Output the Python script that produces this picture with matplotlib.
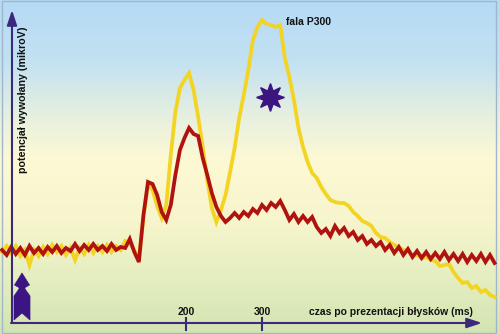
import numpy as np
import matplotlib
matplotlib.use("Agg")
import matplotlib.pyplot as plt
from matplotlib.colors import LinearSegmentedColormap
from matplotlib.patches import Polygon, Rectangle

# ---- data (time in ms, potential in arbitrary microvolts) ----
time_ms = np.arange(-42, 607, 6)

red_uv = [0.2, -0.3, 0.5, -0.2, 0.4, -0.3, 0.6, -0.1, 0.4, -0.2,
          0.5, 0.0, 0.6, -0.1, 0.4, 0.1, 0.8, 0.1, 0.7, 0.2,
          0.8, 0.2, 0.6, 0.1, 0.8, 0.2, 0.5, 0.4, 1.3, 0.0,
          -1.0, 3.7, 7.0, 6.8, 5.7, 4.0, 3.2, 4.7, 7.7, 10.2,
          11.4, 12.4, 11.8, 11.6, 9.4, 7.7, 5.9, 4.5, 3.6, 3.0,
          3.4, 3.9, 3.4, 4.0, 3.6, 4.3, 3.9, 4.7, 4.2, 4.9,
          4.5, 5.1, 4.2, 3.2, 3.8, 3.0, 3.6, 3.0, 3.5, 2.5,
          1.9, 2.3, 1.6, 2.6, 1.9, 2.4, 1.6, 2.0, 1.2, 1.6,
          0.8, 1.2, 0.6, 1.0, 0.2, 0.7, -0.1, 0.5, -0.3, 0.3,
          -0.5, 0.1, -0.6, 0.0, -0.7, -0.1, -0.7, 0.0, -0.8, -0.2,
          -0.9, -0.2, -1.0, -0.3, -0.9, -0.2, -1.0, -0.3, -1.1]

yellow_uv = [0.0, 0.6, -0.1, 0.6, -0.4, 0.2, -1.3, 0.2, -0.4, 0.5,
             -0.2, 0.7, 0.0, 0.6, -0.3, 0.4, -0.8, 0.4, -0.2, 0.7,
             -0.1, 0.6, 0.0, 0.7, 0.0, 0.6, 0.2, 1.1, 0.8, 0.2,
             -0.6, 3.4, 6.8, 6.2, 4.6, 3.4, 4.7, 9.7, 14.0, 16.4,
             17.2, 17.9, 16.2, 13.5, 10.5, 7.2, 4.4, 3.0, 4.2, 5.7,
             8.0, 10.4, 13.4, 15.7, 18.2, 21.2, 22.5, 23.2, 22.8, 22.7,
             22.5, 22.7, 19.4, 17.5, 15.2, 12.4, 10.5, 9.0, 7.9, 7.4,
             6.5, 5.8, 5.2, 5.0, 4.9, 4.9, 4.6, 4.0, 3.6, 3.1,
             2.9, 2.6, 1.9, 1.5, 1.4, 1.0, 0.7, 0.5, 0.2, 0.1,
             -0.4, -0.3, -0.6, -0.5, -0.8, -0.9, -1.4, -1.3, -1.2, -2.0,
             -2.6, -3.1, -3.0, -3.6, -3.4, -4.0, -3.8, -4.3, -4.5]

tick_values = [200, 300]
tick_labels = ["200", "300"]
star_pos = (310, 15.5)

# ---- figure ----
W, H = 500, 334
fig = plt.figure(figsize=(W / 100, H / 100), dpi=100)
ax = fig.add_axes([0, 0, 1, 1])

def to_data(px, py):
    return (px - 34) / 0.76, (252 - py) / 10.0

x0, _ = to_data(0, 0)
x1, _ = to_data(W, 0)
_, y1 = to_data(0, 0)
_, y0 = to_data(0, H)
ax.set_xlim(x0, x1)
ax.set_ylim(y0, y1)
ax.axis("off")

# background gradient
cmap = LinearSegmentedColormap.from_list("bg", [
    (0.0, "#b6daf5"), (0.18, "#c2e1f2"), (0.36, "#e9f1de"),
    (0.48, "#fdf9d4"), (0.66, "#f7f5cc"), (0.84, "#e4eec0"), (1.0, "#d2e4b2")])
grad = np.linspace(0, 1, 256).reshape(-1, 1)
ax.imshow(grad, cmap=cmap, aspect="auto", extent=[x0, x1, y0, y1],
          origin="upper", zorder=0)

# frame
fx0, fy0 = to_data(2, 333)
fx1, fy1 = to_data(496, 1)
ax.add_patch(Rectangle((fx0, fy0), fx1 - fx0, fy1 - fy0, fill=False,
                       edgecolor="#9fb6cc", lw=1.0, zorder=1))

# curves
ax.plot(time_ms, yellow_uv, color="#f4d423", lw=2.7, zorder=3,
        solid_joinstyle="miter")
ax.plot(time_ms, red_uv, color="#b0120f", lw=2.7, zorder=4,
        solid_joinstyle="miter")

axis_col = "#3b2a7c"
# y axis arrow
ax.annotate("", xy=to_data(12, 10), xytext=to_data(12, 323),
            arrowprops=dict(arrowstyle="-|>,head_length=0.9,head_width=0.3",
                            color=axis_col, lw=1.5, shrinkA=0, shrinkB=0),
            zorder=5)
# x axis arrow
ax.annotate("", xy=to_data(482, 323), xytext=to_data(11, 323),
            arrowprops=dict(arrowstyle="-|>,head_length=0.9,head_width=0.3",
                            color=axis_col, lw=1.5, shrinkA=0, shrinkB=0),
            zorder=5)

# ticks
_, ty_top = to_data(0, 318)
_, ty_bot = to_data(0, 330)
_, tl_y = to_data(0, 312)
for v, lab in zip(tick_values, tick_labels):
    ax.plot([v, v], [ty_bot, ty_top], color=axis_col, lw=1.5, zorder=5)
    ax.text(v, tl_y, lab, ha="center", va="center", fontsize=7.5,
            fontweight="bold", family="Liberation Sans", color="#111111")

# labels
lx, ly = to_data(391, 312)
ax.text(lx, ly, "czas po prezentacji błysków (ms)", ha="center", va="center",
        fontsize=7.5, fontweight="bold", family="Liberation Sans", color="#111111")
yx, yy = to_data(23, 100)
ax.text(yx, yy, "potencjał wywołany (mikroV)", ha="center", va="center",
        rotation=90, fontsize=7.7, fontweight="bold", family="Liberation Sans",
        color="#111111")
fx, fy = to_data(309, 22)
ax.text(fx, fy, "fala P300", ha="center", va="center", fontsize=7.5,
        fontweight="bold", family="Liberation Sans", color="#111111")

# star
ax.plot([star_pos[0]], [star_pos[1]], marker=(8, 1, 0), markersize=20,
        color="#3c1580", zorder=6, linestyle="none")

# stimulus arrow
pts_px = [(22, 273), (29.5, 285), (25, 287.5), (25, 289), (30, 296),
          (30, 320), (22, 313), (14, 320), (14, 296), (19, 289),
          (19, 287.5), (14.5, 285)]
pts = [to_data(px, py) for px, py in pts_px]
ax.add_patch(Polygon(pts, closed=True, facecolor="#3c1585",
                     edgecolor="#3c1585", lw=0.5, zorder=6))

fig.savefig("out.png", dpi=100)
